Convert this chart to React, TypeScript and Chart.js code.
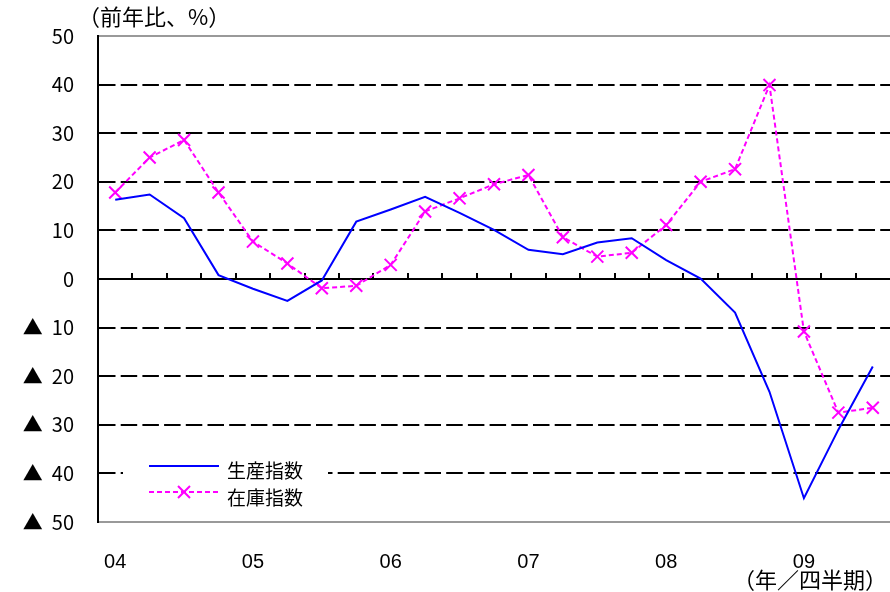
import { useEffect, useRef } from "react";
import { Chart, registerables } from "chart.js";

Chart.register(...registerables);

// ---- data ----
const quarterLabels = [
  "04", "", "", "",
  "05", "", "", "",
  "06", "", "", "",
  "07", "", "", "",
  "08", "", "", "",
  "09", "", "",
];
const productionIndex = [
  16.3, 17.4, 12.5, 0.8,
  -2.0, -4.5, -0.3, 11.8,
  14.3, 16.9, 13.6, 10.1,
  6.0, 5.1, 7.5, 8.4,
  3.9, 0.1, -6.9, -23.2,
  -45.1, -31.0, -18.0,
];
const inventoryIndex = [
  17.8, 25.0, 28.6, 17.8,
  7.7, 3.2, -1.9, -1.4,
  2.9, 13.9, 16.6, 19.5,
  21.4, 8.6, 4.6, 5.4,
  11.1, 20.0, 22.6, 39.9,
  -10.8, -27.5, -26.5,
];
const seriesNames = ["生産指数", "在庫指数"];
const yUnitLabel = "（前年比、%）";
const xUnitLabel = "（年／四半期）";
const yMin = -50;
const yMax = 50;
const yStep = 10;

const LATIN = '"Liberation Sans", Arial, "Noto Sans CJK JP", sans-serif';
const CJK = '"Noto Sans CJK JP", "Noto Sans CJK SC", sans-serif';
const BLUE = "#0000ff";
const MAGENTA = "#ff00ff";

const zeroTicksPlugin = {
  id: "zeroTicks",
  beforeDatasetsDraw(chart: any) {
    const { ctx, scales } = chart;
    const x = scales.x;
    const y = scales.y;
    const y0 = y.getPixelForValue(0);
    ctx.save();
    ctx.strokeStyle = "#000";
    ctx.lineWidth = 2;
    for (let i = 1; i < quarterLabels.length; i++) {
      const px = Math.round((x.getPixelForValue(i - 1) + x.getPixelForValue(i)) / 2);
      ctx.beginPath();
      ctx.moveTo(px, y0);
      ctx.lineTo(px, y0 - 6);
      ctx.stroke();
    }
    ctx.restore();
  },
};

const annotationsPlugin = {
  id: "annotations",
  afterDraw(chart: any) {
    const { ctx, chartArea } = chart;
    const L = chartArea.left;
    ctx.save();
    // unit labels
    ctx.fillStyle = "#000";
    ctx.font = `22px ${CJK}`;
    ctx.textBaseline = "middle";
    ctx.textAlign = "left";
    ctx.fillText(yUnitLabel, L - 20, 17);
    ctx.textAlign = "right";
    ctx.fillText(xUnitLabel, chart.width - 3, 580);

    // legend
    const bx = L + 25;
    const by = 452;
    ctx.fillStyle = "#fff";
    ctx.fillRect(bx, by, 205, 56);
    const lx1 = L + 51;
    const lx2 = L + 121;
    const r1 = 466;
    const r2 = 492;
    ctx.lineWidth = 2;
    ctx.strokeStyle = BLUE;
    ctx.beginPath();
    ctx.moveTo(lx1, r1);
    ctx.lineTo(lx2, r1);
    ctx.stroke();
    ctx.strokeStyle = MAGENTA;
    ctx.setLineDash([5, 3]);
    ctx.beginPath();
    ctx.moveTo(lx1, r2);
    ctx.lineTo(lx2, r2);
    ctx.stroke();
    ctx.setLineDash([]);
    const cx = (lx1 + lx2) / 2;
    const d = 6;
    ctx.beginPath();
    ctx.moveTo(cx - d, r2 - d);
    ctx.lineTo(cx + d, r2 + d);
    ctx.moveTo(cx - d, r2 + d);
    ctx.lineTo(cx + d, r2 - d);
    ctx.stroke();
    ctx.fillStyle = "#000";
    ctx.font = `19px ${CJK}`;
    ctx.textAlign = "left";
    ctx.textBaseline = "middle";
    ctx.fillText(seriesNames[0], L + 129, r1 + 5);
    ctx.fillText(seriesNames[1], L + 129, r2 + 6);
    ctx.restore();
  },
};

export default function App() {
  const canvasRef = useRef<HTMLCanvasElement | null>(null);

  useEffect(() => {
    if (!canvasRef.current) return;
    const chart = new Chart(canvasRef.current, {
      type: "line",
      data: {
        labels: quarterLabels,
        datasets: [
          {
            label: seriesNames[0],
            data: productionIndex,
            borderColor: BLUE,
            backgroundColor: BLUE,
            borderWidth: 2,
            pointRadius: 0,
            tension: 0,
          },
          {
            label: seriesNames[1],
            data: inventoryIndex,
            borderColor: MAGENTA,
            backgroundColor: MAGENTA,
            borderWidth: 2,
            borderDash: [5, 3],
            pointStyle: "crossRot",
            pointRadius: 8.5,
            pointBorderWidth: 2,
            pointBorderColor: MAGENTA,
            tension: 0,
          },
        ],
      },
      options: {
        animation: false,
        responsive: false,
        maintainAspectRatio: false,
        layout: { autoPadding: false, padding: { top: 36, left: 0, right: -1, bottom: 0 } },
        plugins: {
          legend: { display: false },
          tooltip: { enabled: false },
          title: { display: false },
        },
        scales: {
          x: {
            type: "category",
            offset: true,
            grid: { display: false, drawTicks: true, tickLength: 28 },
            border: { display: false },
            ticks: {
              autoSkip: false,
              maxRotation: 0,
              minRotation: 0,
              padding: 0,
              color: "#000",
              font: { size: 20, family: LATIN },
            },
            afterFit: (s: any) => {
              s.height = 70;
              s.paddingLeft = 0;
              s.paddingRight = 0;
            },
          },
          y: {
            min: yMin,
            max: yMax,
            ticks: {
              stepSize: yStep,
              padding: 24,
              color: "#000",
              font: { size: 20, family: CJK },
              callback: (v: any) => {
                const n = Number(v);
                return n < 0 ? "▲  " + Math.abs(n) : String(n);
              },
            },
            grid: {
              drawTicks: false,
              lineWidth: 2,
              color: (c: any) => {
                const v = c.tick ? c.tick.value : 0;
                return Math.abs(v) === 50 ? "#999999" : "#000";
              },
            },
            border: {
              display: true,
              color: "#000",
              width: 2,
              dash: (c: any) => {
                const v = c.tick ? c.tick.value : 0;
                if (v === 0 || Math.abs(v) === 50) return [];
                return [16.5, 5.2];
              },
            },
            afterFit: (s: any) => {
              s.width = 98;
            },
          },
        },
      },
      plugins: [zeroTicksPlugin, annotationsPlugin],
    } as any);
    return () => chart.destroy();
  }, []);

  return (
    <div style={{ position: "fixed", left: 0, top: 0, width: 890, height: 592, background: "#fff" }}>
      <canvas ref={canvasRef} width={890} height={592} />
    </div>
  );
}
